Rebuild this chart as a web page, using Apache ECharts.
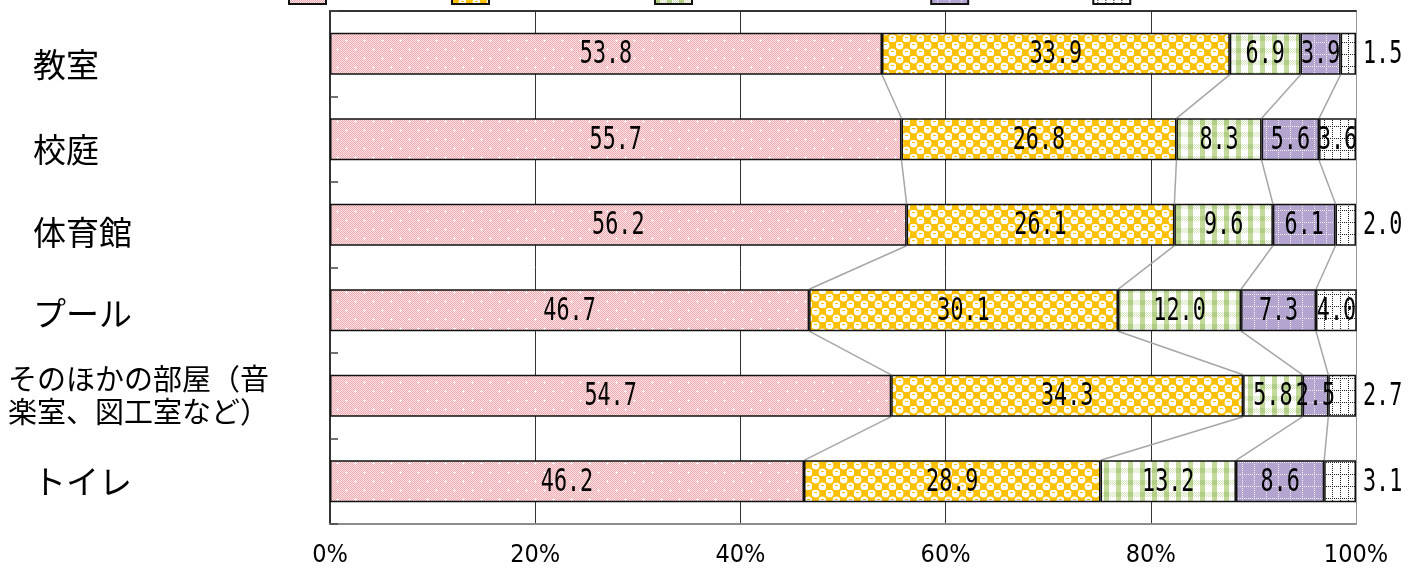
<!DOCTYPE html>
<html>
<head>
<meta charset="utf-8">
<script src="https://cdn.jsdelivr.net/npm/echarts@6/dist/echarts.min.js"></script>
<style>
  html, body { margin: 0; padding: 0; background: #fff; }
  #chart { width: 1414px; height: 569px; }
</style>
</head>
<body>
<div id="chart"></div>
<script>
// Places in the school and the share of each answer (%)
const categories = ['教室', '校庭', '体育館', 'プール', 'そのほかの部屋（音\n楽室、図工室など）', 'トイレ'];
const seriesNames = ['そう思う', 'まあそう思う', 'あまりそう思わない', 'そう思わない', '無回答'];
const answer1 = [53.8, 55.7, 56.2, 46.7, 54.7, 46.2];
const answer2 = [33.9, 26.8, 26.1, 30.1, 34.3, 28.9];
const answer3 = [6.9, 8.3, 9.6, 12.0, 5.8, 13.2];
const answer4 = [3.9, 5.6, 6.1, 7.3, 2.5, 8.6];
const answer5 = [1.5, 3.6, 2.0, 4.0, 2.7, 3.1];
const xTickLabels = ['0%', '20%', '40%', '60%', '80%', '100%'];

const allSeries = [answer1, answer2, answer3, answer4, answer5];

const NARROW = '"Liberation Sans Narrow", "DejaVu Sans Condensed", sans-serif';
const MONO = '"DejaVu Sans Mono", "Liberation Mono", monospace';
const JP = '"Noto Sans CJK JP", "Noto Sans", sans-serif';
const barRatio = 0.49;

// ---- fill patterns -------------------------------------------------------
function makePattern(w, h, draw) {
  const c = document.createElement('canvas');
  c.width = w; c.height = h;
  const ctx = c.getContext('2d');
  draw(ctx, w, h);
  return { image: c, repeat: 'repeat' };
}

const pinkDots = makePattern(18, 18, (ctx, w, h) => {
  ctx.fillStyle = '#fbe2e4';
  ctx.fillRect(0, 0, w, h);
  ctx.fillStyle = '#edaab1';
  for (let y = 0; y < h; y++) for (let x = 0; x < w; x++) if ((x + y) % 2 === 0) ctx.fillRect(x, y, 1, 1);
  ctx.fillStyle = '#ffffff';
  [[4, 4], [13, 13]].forEach(([x, y]) => {
    ctx.fillRect(x - 1, y, 3, 1);
    ctx.fillRect(x, y - 1, 1, 3);
  });
});

const yellowCheck = makePattern(14, 14, (ctx, w, h) => {
  ctx.fillStyle = '#ffc000';
  ctx.fillRect(0, 0, w, h);
  ctx.fillStyle = '#ffffff';
  [[3.5, 3.5], [10.5, 10.5]].forEach(([x, y]) => {
    ctx.beginPath(); ctx.arc(x, y, 3.9, 0, Math.PI * 2); ctx.fill();
  });
  ctx.fillStyle = '#ffc000';
  ctx.fillRect(2, 2, 3, 1);
  ctx.fillRect(9, 9, 3, 1);
});

const greenGingham = makePattern(12, 12, (ctx, w, h) => {
  ctx.fillStyle = '#ffffff';
  ctx.fillRect(0, 0, w, h);
  for (let y = 0; y < 5; y++) for (let x = 0; x < w; x++) {
    if ((x + y) % 2 === 0) { ctx.fillStyle = '#d5e5bb'; ctx.fillRect(x, y, 1, 1); }
  }
  ctx.fillStyle = '#c3da9b';
  ctx.fillRect(0, 5, 5, 7);
  ctx.fillStyle = '#b2cd85';
  ctx.fillRect(0, 0, 5, 5);
});

const purpleGrid = makePattern(12, 12, (ctx, w, h) => {
  ctx.fillStyle = '#b3a5cf';
  ctx.fillRect(0, 0, w, h);
  ctx.fillStyle = 'rgba(255,255,255,0.85)';
  for (let i = 0; i < w; i += 2) ctx.fillRect(i, 6, 1, 1);
  for (let j = 0; j < h; j += 2) ctx.fillRect(6, j, 1, 1);
});

const whiteGrid = makePattern(8, 12, (ctx, w, h) => {
  ctx.fillStyle = '#ffffff';
  ctx.fillRect(0, 0, w, h);
  ctx.fillStyle = '#222222';
  for (let j = 0; j < h; j += 2) ctx.fillRect(4, j, 1, 1);
  for (let i = 0; i < w; i += 2) ctx.fillRect(i, 6, 1, 1);
});

const fills = [pinkDots, yellowCheck, greenGingham, purpleGrid, whiteGrid];

// ---- category names ---------------------------------------------------------
// vertical nudges of the category names (px, + is down)
const nameShift = [11, 10, 8, 3, 0, 0];
const rich = {};
categories.forEach((c, i) => {
  const d = nameShift[i];
  const long = c.indexOf('\n') >= 0;
  rich['c' + i] = {
    fontFamily: JP,
    fontSize: long ? 29 : 33,
    color: '#000',
    lineHeight: long ? 33 : 40,
    padding: [Math.max(0, 2 * d), 0, Math.max(0, -2 * d), long ? 0 : 25]
  };
});

// ---- stacked bars -----------------------------------------------------------
const barSeries = allSeries.map((vals, si) => ({
  name: seriesNames[si],
  type: 'bar',
  stack: 'total',
  barWidth: (barRatio * 100) + '%',
  itemStyle: { color: fills[si], borderColor: '#111', borderWidth: 1.5 },
  data: vals
}));

// ---- value labels (narrow monospaced digits) -------------------------------
const labelData = [];
for (let i = 0; i < categories.length; i++) {
  let start = 0;
  allSeries.forEach((vals, si) => {
    labelData.push([start, i, vals[i], si]);
    start += vals[i];
  });
}
const lastSeries = allSeries.length - 1;
const labelSeries = {
  type: 'custom',
  silent: true,
  z: 5,
  encode: { x: 0, y: 1 },
  data: labelData,
  renderItem: (params, api) => {
    const start = api.value(0), cat = api.value(1), v = api.value(2), si = api.value(3);
    const outside = si === lastSeries && v < 3.5;
    let x, align;
    if (outside) {
      x = api.coord([start + v, cat])[0] + 7;
      align = 'left';
    } else {
      x = api.coord([start + v / 2, cat])[0];
      align = 'center';
    }
    const y = api.coord([start, cat])[1];
    return {
      type: 'text',
      x: x,
      y: y + 1,
      scaleX: 0.68,
      style: {
        text: v.toFixed(1),
        fill: '#000',
        font: '32px ' + MONO,
        align: align,
        verticalAlign: 'middle'
      }
    };
  }
};

// ---- series lines between neighbouring bars --------------------------------
const connectData = [];
for (let i = 0; i < categories.length - 1; i++) {
  let a = 0, b = 0;
  for (let k = 0; k < allSeries.length - 1; k++) {
    a += allSeries[k][i];
    b += allSeries[k][i + 1];
    connectData.push([a, i, b, i + 1]);
  }
}
const connectSeries = {
  type: 'custom',
  silent: true,
  z: 1,
  encode: { x: [0, 2], y: [1, 3] },
  data: connectData,
  renderItem: (params, api) => {
    const p1 = api.coord([api.value(0), api.value(1)]);
    const p2 = api.coord([api.value(2), api.value(3)]);
    const half = api.size([0, 1])[1] * barRatio / 2;
    return {
      type: 'line',
      shape: { x1: p1[0], y1: p1[1] + half, x2: p2[0], y2: p2[1] - half },
      style: { stroke: '#a6a6a6', lineWidth: 1.5 }
    };
  }
};

// legend entry text sizes (the entry text sits above the top edge)
const legendFontSize = [27.5, 25, 24.8, 18.2, 20];
const legendRich = {};
legendFontSize.forEach((f, i) => { legendRich['w' + i] = { fontSize: f, fontFamily: JP, color: '#000' }; });

const chart = echarts.init(document.getElementById('chart'), null, { renderer: 'canvas' });
chart.setOption({
  animation: false,
  backgroundColor: '#ffffff',
  legend: {
    top: -37,
    left: 288,
    padding: 0,
    itemWidth: 37,
    itemHeight: 40,
    itemGap: 10,
    icon: 'rect',
    textStyle: { fontFamily: JP, fontSize: 20, color: '#000', rich: legendRich },
    formatter: name => '{w' + seriesNames.indexOf(name) + '|' + name + '}',
    data: seriesNames
  },
  grid: { left: 330, right: 58, top: 11, bottom: 45, containLabel: false },
  xAxis: [
    {
      type: 'value', min: 0, max: 100, interval: 20,
      axisLine: { show: true, lineStyle: { color: '#8c8c8c', width: 2 } },
      axisTick: { show: false },
      axisLabel: {
        margin: 19,
        color: '#000',
        fontFamily: NARROW,
        fontSize: 25,
        formatter: (v) => xTickLabels[Math.round(v / 20)]
      },
      splitLine: { show: true, lineStyle: { color: ['#333', '#333', '#333', '#333', '#333', '#999'], width: 1 } }
    },
    {
      type: 'value', min: 0, max: 100, interval: 20, position: 'top',
      axisLine: { show: true, lineStyle: { color: '#333', width: 2 } },
      axisTick: { show: false },
      axisLabel: { show: false },
      splitLine: { show: false }
    }
  ],
  yAxis: {
    type: 'category',
    data: categories,
    inverse: true,
    axisLine: { show: true, lineStyle: { color: '#333', width: 2 } },
    axisTick: { show: true, inside: true, length: 8, lineStyle: { color: '#444', width: 1.5 } },
    axisLabel: {
      align: 'left',
      margin: 322,
      formatter: (v, i) => v.split('\n').map(s => '{c' + i + '|' + s + '}').join('\n'),
      rich: rich
    }
  },
  series: [...barSeries, labelSeries, connectSeries]
});
</script>
</body>
</html>
